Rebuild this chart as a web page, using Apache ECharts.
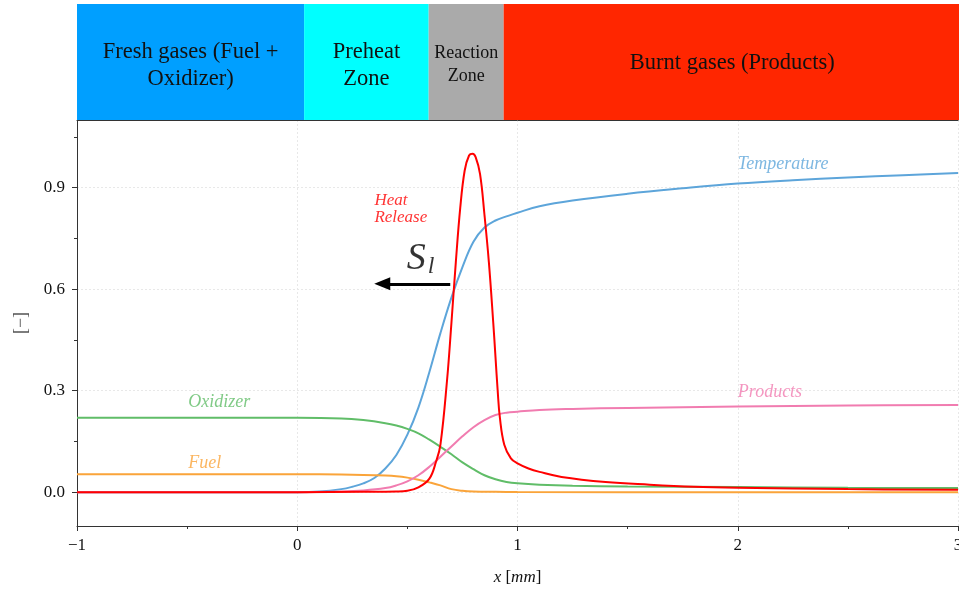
<!DOCTYPE html>
<html><head><meta charset="utf-8">
<script src="https://cdn.jsdelivr.net/npm/echarts@6/dist/echarts.min.js"></script>
<style>html,body{margin:0;padding:0;background:#fff}#c{width:959px;height:589px}</style>
</head><body><div id="c"></div>
<script>
// ---- data ----
const xTemperature = [-1, 0, 0.1, 0.2, 0.25, 0.3, 0.35, 0.4, 0.45, 0.5, 0.55, 0.6, 0.65, 0.7, 0.75, 0.8, 0.85, 0.9, 0.95, 1.0, 1.1, 1.25, 1.5, 1.75, 2.0, 2.25, 2.5, 2.75, 3.0];
const yTemperature = [0, 0, 0.002, 0.009, 0.016, 0.026, 0.042, 0.07, 0.11, 0.17, 0.25, 0.355, 0.47, 0.575, 0.665, 0.74, 0.782, 0.803, 0.815, 0.826, 0.845, 0.862, 0.882, 0.898, 0.912, 0.922, 0.93, 0.937, 0.943];

const xProducts = [-1, 0, 0.2, 0.3, 0.4, 0.45, 0.5, 0.55, 0.6, 0.65, 0.7, 0.75, 0.8, 0.85, 0.9, 0.95, 1.0, 1.1, 1.25, 1.5, 2.0, 2.5, 3.0];
const yProducts = [0, 0, 0.002, 0.005, 0.012, 0.02, 0.032, 0.05, 0.075, 0.105, 0.135, 0.165, 0.192, 0.213, 0.228, 0.235, 0.238, 0.243, 0.246, 0.249, 0.253, 0.256, 0.258];

const xOxidizer = [-1, 0, 0.2, 0.3, 0.4, 0.45, 0.5, 0.55, 0.6, 0.65, 0.7, 0.75, 0.8, 0.85, 0.9, 0.95, 1.0, 1.1, 1.25, 1.5, 2.0, 2.5, 3.0];
const yOxidizer = [0.22, 0.22, 0.218, 0.213, 0.204, 0.197, 0.187, 0.174, 0.155, 0.134, 0.112, 0.088, 0.068, 0.05, 0.038, 0.03, 0.026, 0.022, 0.019, 0.017, 0.015, 0.013, 0.012];

const xFuel = [-1, 0, 0.2, 0.3, 0.4, 0.45, 0.5, 0.55, 0.6, 0.65, 0.7, 0.75, 0.8, 0.9, 1.0, 2.0, 3.0];
const yFuel = [0.053, 0.053, 0.052, 0.051, 0.049, 0.047, 0.043, 0.037, 0.029, 0.02, 0.009, 0.004, 0.002, 0.001, 0.0005, 0, 0];

const xHeat = [-1, 0, 0.3, 0.45, 0.5, 0.55, 0.6, 0.63, 0.65, 0.68, 0.7, 0.72, 0.74, 0.76, 0.78, 0.796, 0.81, 0.83, 0.85, 0.87, 0.89, 0.9, 0.91, 0.92, 0.94, 0.97, 1.0, 1.05, 1.1, 1.2, 1.4, 1.6, 1.8, 2.0, 2.5, 3.0];
const yHeat = [0, 0, 0.001, 0.002, 0.004, 0.014, 0.04, 0.09, 0.14, 0.33, 0.5, 0.68, 0.84, 0.95, 0.995, 1.0, 0.99, 0.94, 0.82, 0.68, 0.5, 0.4, 0.3, 0.22, 0.14, 0.1, 0.085, 0.07, 0.06, 0.045, 0.03, 0.022, 0.016, 0.013, 0.009, 0.007];

const zoneStart = [-1, 0.03, 0.595, 0.935];
const zoneEnd = [0.03, 0.595, 0.935, 3];
const zoneLabels = ['Fresh gases (Fuel +\nOxidizer)', 'Preheat\nZone', 'Reaction\nZone', 'Burnt gases (Products)'];

const xTicks = [-1, 0, 1, 2, 3];
const yTicks = [0, 0.3, 0.6, 0.9];
const yMinorTicks = [0.15, 0.45, 0.75, 1.05];

// ---- styling ----
const zoneColors = ['#009fff', '#00ffff', '#aaaaaa', '#ff2600'];
const zoneFont = [22.5, 22.5, 18, 22.5];
const zoneLH = [27, 27, 23, 27];
const zoneShift = [3.5, 3.5, 2.5, 1];
const SERIF = 'Liberation Serif';

const zip = (xs, ys) => xs.map((x, i) => [x, ys[i]]);

const annotations = [
  {text: 'Temperature', x: 2.0, y: 0.968, color: '#5da5da', size: 18},
  {text: 'Products', x: 2.0, y: 0.296, color: '#f17cb0', size: 18},
  {text: 'Oxidizer', x: -0.495, y: 0.266, color: '#60bd68', size: 18},
  {text: 'Fuel', x: -0.495, y: 0.086, color: '#faa43a', size: 18},
  {text: 'Heat\nRelease', x: 0.35, y: 0.836, color: '#ff0000', size: 17},
  {text: 'S', x: 0.497, y: 0.69, color: '#000', size: 38},
  {text: 'l', x: 0.592, y: 0.665, color: '#000', size: 24}
];

function lineSeries(name, xs, ys, color, z) {
  return {
    name, type: 'line', data: zip(xs, ys), symbol: 'none', smooth: 0.4,
    lineStyle: {color, width: 2}, z, silent: true
  };
}

const chart = echarts.init(document.getElementById('c'), null, {renderer: 'canvas'});
const axisColor = '#333';
chart.setOption({
  animation: false,
  backgroundColor: '#fff',
  grid: [
    {left: 77, right: 1, top: 120, bottom: 63, outerBoundsMode: 'none', containLabel: false},
    {left: 77, right: 0, top: 4, height: 116, outerBoundsMode: 'none', containLabel: false}
  ],
  xAxis: [
    {type: 'value', gridIndex: 0, min: -1, max: 3, interval: 1,
      axisLine: {onZero: false, lineStyle: {color: axisColor, width: 1}},
      axisTick: {show: true, length: 5, lineStyle: {color: axisColor}},
      minorTick: {show: true, splitNumber: 2, length: 3, lineStyle: {color: axisColor}},
      splitLine: {show: true, lineStyle: {color: '#e8e8e8', type: [2, 2], width: 1}},
      axisLabel: {color: '#111', fontFamily: SERIF, fontSize: 17, margin: 11,
        showMinLabel: true, showMaxLabel: true, hideOverlap: false,
        formatter: v => v < 0 ? '\u2212' + (-v) : String(v)},
      name: '{i|x} [{i|mm}]', nameLocation: 'middle', nameGap: 43,
      nameTextStyle: {fontFamily: SERIF, fontSize: 17, color: '#111',
        rich: {i: {fontFamily: SERIF, fontSize: 17, fontStyle: 'italic', color: '#111'}}}
    },
    {type: 'value', gridIndex: 0, position: 'top', min: -1, max: 3,
      axisLine: {show: true, onZero: false, lineStyle: {color: axisColor, width: 1}},
      axisTick: {show: false}, axisLabel: {show: false}, splitLine: {show: false}},
    {type: 'value', gridIndex: 1, min: -1, max: 3, show: false}
  ],
  yAxis: [
    {type: 'value', gridIndex: 0, min: -0.1, max: 1.1,
      axisLine: {show: true, onZero: false, lineStyle: {color: axisColor, width: 1}},
      axisTick: {show: true, length: 5, customValues: yTicks, lineStyle: {color: axisColor}},
      axisLabel: {customValues: yTicks, color: '#111', fontFamily: SERIF, fontSize: 17, margin: 12,
        formatter: v => v.toFixed(1)},
      splitLine: {show: true, lineStyle: {color: '#e8e8e8', type: [2, 2], width: 1}},
      name: '[\u2212]', nameLocation: 'middle', nameGap: 47,
      nameTextStyle: {fontFamily: SERIF, fontSize: 18, color: '#555'}
    },
    {type: 'value', gridIndex: 0, position: 'left', min: -0.1, max: 1.1,
      axisLine: {show: false, onZero: false},
      axisTick: {show: true, length: 3, customValues: yMinorTicks, lineStyle: {color: axisColor}},
      axisLabel: {show: false, customValues: yMinorTicks}, splitLine: {show: false}},
    {type: 'value', gridIndex: 1, min: 0, max: 1, show: false}
  ],
  series: [
    {
      type: 'custom', xAxisIndex: 2, yAxisIndex: 2, silent: true,
      data: zoneStart.map((s, i) => [s, zoneEnd[i]]),
      renderItem: function (params, api) {
        const i = params.dataIndex;
        const a = api.coord([api.value(0), 1]);
        const b = api.coord([api.value(1), 0]);
        return {
          type: 'rect',
          shape: {x: a[0], y: a[1], width: b[0] - a[0] + (i === 3 ? 2 : 0), height: b[1] - a[1]},
          style: {fill: zoneColors[i]},
          textContent: {style: {text: zoneLabels[i], fill: '#111', fontFamily: SERIF,
            fontSize: zoneFont[i], lineHeight: zoneLH[i], align: 'center', verticalAlign: 'middle'}},
          textConfig: {position: 'inside', offset: [0, zoneShift[i]]}
        };
      }
    },
    lineSeries('Temperature', xTemperature, yTemperature, '#5da5da', 3),
    lineSeries('Oxidizer', xOxidizer, yOxidizer, '#60bd68', 3),
    lineSeries('Fuel', xFuel, yFuel, '#faa43a', 3),
    lineSeries('Products', xProducts, yProducts, '#f17cb0', 4),
    lineSeries('Heat Release', xHeat, yHeat, '#ff0000', 5),
    {
      type: 'scatter', symbolSize: 0.1, itemStyle: {color: 'rgba(0,0,0,0)'}, silent: true, z: 6,
      data: annotations.map(a => ({
        value: [a.x, a.y],
        label: {show: true, position: 'right', distance: 0, formatter: a.text,
          color: a.color, fontFamily: SERIF, fontStyle: 'italic', fontSize: a.size,
          lineHeight: a.size, align: 'left', verticalAlign: 'middle'}
      })),
      markLine: {
        silent: true, symbol: ['none', 'triangle'], symbolSize: [13, 16],
        label: {show: false},
        lineStyle: {color: '#000', width: 3, type: 'solid'},
        data: [[{coord: [0.6946, 0.616]}, {coord: [0.386, 0.616]}]]
      }
    }
  ]
});
</script>
</body></html>
